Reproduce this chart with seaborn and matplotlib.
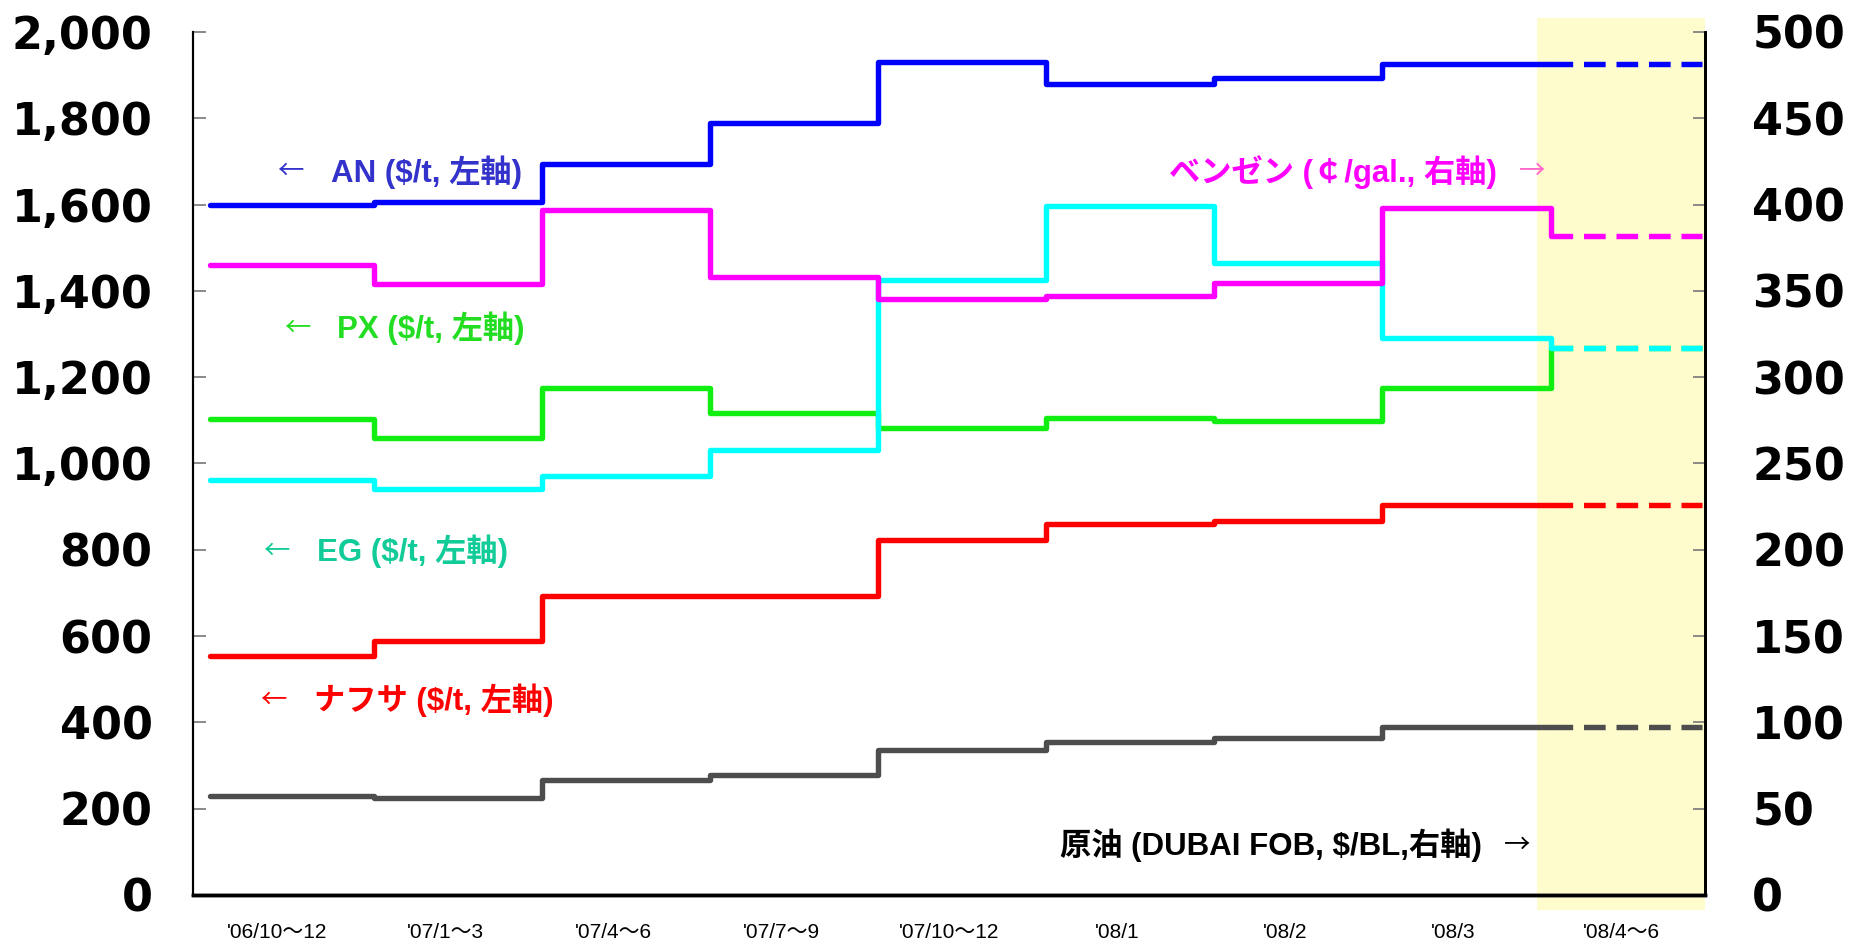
import numpy as np
import pandas as pd
import matplotlib
matplotlib.use('Agg')
import matplotlib.pyplot as plt
import seaborn as sns
from matplotlib.ticker import FuncFormatter, MultipleLocator, FixedLocator

sns.set_style('white')
plt.rcParams['font.family'] = ['Liberation Sans', 'Noto Sans CJK JP', 'DejaVu Sans']

# quarterly / monthly periods
periods = ["'06/10～12", "'07/1～3", "'07/4～6", "'07/7～9", "'07/10～12",
           "'08/1", "'08/2", "'08/3", "'08/4～6"]

# left axis ($/t)
an = [1600, 1605, 1695, 1790, 1930, 1880, 1893, 1925, 1925]
px = [1103, 1058, 1176, 1118, 1083, 1106, 1099, 1175, 1268]
eg = [962, 940, 970, 1030, 1425, 1597, 1465, 1290, 1268]
naphtha = [553, 588, 692, 692, 822, 860, 866, 903, 903]

# right axis
benzene = [365, 354, 397, 358, 345.5, 347, 354.5, 398, 382]
crude = [57.5, 56, 66.5, 69.5, 84, 88.5, 91, 97.5, 97.5]

n = len(periods)
# lines change value slightly after each period boundary
edges = np.arange(n) + 0.08
edges[0] = 0.1
x_end = n - 0.02


def draw(ax, vals, color):
    df = pd.DataFrame({'x': edges, 'y': vals})
    sns.lineplot(data=df, x='x', y='y', ax=ax, color=color, lw=3.9,
                 drawstyle='steps-post', estimator=None, sort=False)
    dash = pd.DataFrame({'x': [edges[-1], x_end], 'y': [vals[-1], vals[-1]]})
    sns.lineplot(data=dash, x='x', y='y', ax=ax, color=color, lw=3.9,
                 linestyle=(0, (4, 2)), estimator=None, sort=False)


def label(ax, x, y, text, color, arrow_color=None, arrow='left'):
    # arrow drawn in the CJK font so it is long like the original
    ac = arrow_color or color
    if arrow == 'left':
        ax.text(x, y, '←', color=ac, fontsize=19, va='center',
                family=['Noto Sans CJK JP'])
        ax.text(x + 0.32, y, text, color=color, fontsize=22.5,
                fontweight='bold', va='center')
    else:
        ax.text(x, y, text, color=color, fontsize=22.5,
                fontweight='bold', va='center', ha='right')
        ax.text(x + 0.13, y, '→', color=ac, fontsize=19, va='center',
                family=['Noto Sans CJK JP'])


fig = plt.figure(figsize=(18.59, 9.41), dpi=100)
ax = fig.add_axes([0.1038, 0.049, 0.8134, 0.917])
ax2 = ax.twinx()

# forecast period highlight
ax.axvspan(n - 1, n, ymin=-0.017, ymax=1.016, color='#fefccc', zorder=0,
           clip_on=False, lw=0)

draw(ax, an, '#0000ff')
draw(ax, px, '#11ee11')
draw(ax, eg, '#00ffff')
draw(ax, naphtha, '#ff0000')
draw(ax2, benzene, '#ff00ff')
draw(ax2, crude, '#4d4d4d')

ax.set_xlim(0, n)
ax.set_ylim(0, 2000)
ax2.set_ylim(0, 500)
ax.set_xlabel('')
ax.set_ylabel('')
ax2.set_ylabel('')

ax.yaxis.set_major_locator(MultipleLocator(200))
ax.yaxis.set_major_formatter(FuncFormatter(lambda v, p: f'{int(v):,}'))
ax2.yaxis.set_major_locator(MultipleLocator(50))

ax.xaxis.set_major_locator(FixedLocator(np.arange(n + 1)))
ax.xaxis.set_major_formatter(FuncFormatter(lambda v, p: ''))
ax.xaxis.set_minor_locator(FixedLocator(np.arange(n) + 0.5))
ax.set_xticklabels(periods, minor=True)

ax.tick_params(axis='x', which='major', direction='in', length=8, width=1.2,
               color='#333333')
ax.tick_params(axis='x', which='minor', length=0, pad=20, labelsize=15,
               labelcolor='black')
ax.tick_params(axis='y', direction='in', length=9, width=1.2, color='#777777',
               pad=29, labelsize=32, labelcolor='black')
ax2.tick_params(axis='y', direction='in', length=9, width=1.2, color='#777777',
                pad=34, labelsize=32, labelcolor='black')
for lbl in ax.get_yticklabels() + ax2.get_yticklabels():
    lbl.set_fontfamily('DejaVu Sans')
    lbl.set_fontweight('bold')

for a in (ax, ax2):
    a.spines['top'].set_visible(False)
    a.spines['left'].set_color('black')
    a.spines['left'].set_linewidth(1.5)
    a.spines['right'].set_color('black')
    a.spines['right'].set_linewidth(2)
    a.spines['bottom'].set_color('black')
    a.spines['bottom'].set_linewidth(2.5)

label(ax, 0.50, 1676, 'AN ($/t, 左軸)', '#3333cc')
label(ax, 0.54, 1313, 'PX ($/t, 左軸)', '#22dd22')
label(ax, 0.42, 797, 'EG ($/t, 左軸)', '#11cc99')
label(ax, 0.40, 451, 'ナフサ ($/t, 左軸)', '#ff0000')
label(ax, 7.76, 1676, 'ベンゼン (￠/gal., 右軸)', '#ff00ff',
      arrow_color='#ff66cc', arrow='right')
label(ax, 7.67, 115, '原油 (DUBAI FOB, $/BL,右軸)', 'black', arrow='right')

fig.savefig('out.png', dpi=100)
